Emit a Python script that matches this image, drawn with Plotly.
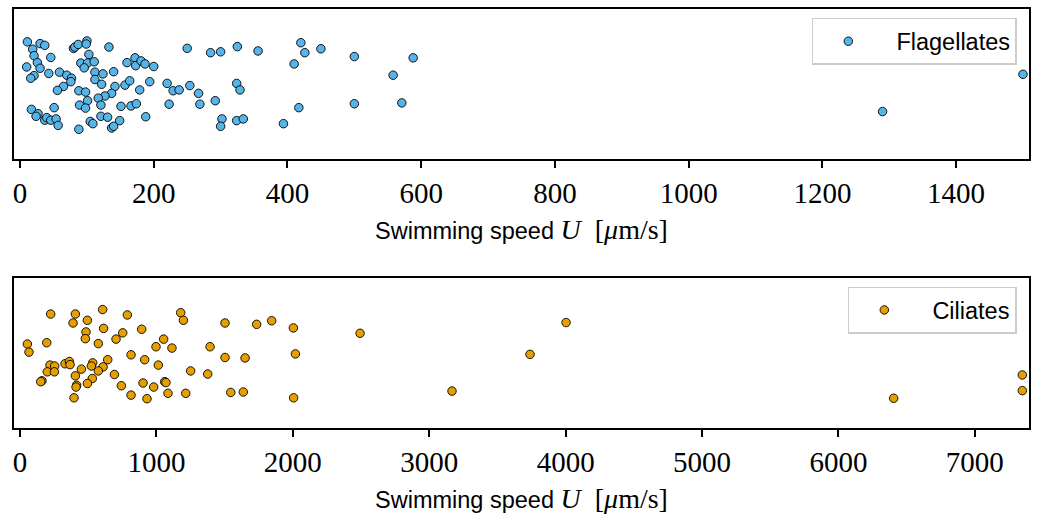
import plotly.graph_objects as go

# ---- data ----
flag_speed = [11, 30, 37, 19, 21, 46, 26, 10, 30, 21, 16, 43,
              80, 82, 87, 100, 99, 133, 103, 91, 101, 111, 96,
              112, 124, 140, 59, 70, 77, 76, 65, 56, 112, 122, 88, 98,
              142, 137, 127, 117, 101, 89, 98, 121,
              160, 172, 173, 181, 187, 200, 157, 164, 179, 194, 151, 166, 174,
              17, 27, 24, 37, 40, 51, 46, 54, 57,
              88, 105, 109, 121, 131, 137, 140, 149, 188,
              220, 229, 238, 254, 267, 223, 269, 292,
              250, 285, 300, 325, 324, 329, 302, 300, 324, 334,
              356, 420, 426, 450, 410, 500, 588, 558, 417, 500, 571, 394,
              1290, 1500]
flag_jitter = [1.00, 0.96, 0.92, 0.83, 0.68, 0.64, 0.52, 0.42, 0.39, 0.22, 0.16, 0.27,
               0.85, 0.88, 0.94, 1.02, 0.95, 0.88, 0.71, 0.51, 0.51, 0.54, 0.40,
               0.30, 0.26, 0.31, 0.30, 0.23, 0.16, 0.08, -0.03, -0.12, 0.13, 0.02, -0.13, -0.16,
               -0.03, -0.19, -0.25, -0.30, -0.36, -0.46, -0.53, -0.46,
               0.52, 0.63, 0.45, 0.56, 0.49, 0.43, 0.00, 0.10, -0.11, 0.08, -0.49, -0.48, -0.43,
               -0.56, -0.66, -0.72, -0.81, -0.75, -0.52, -0.81, -0.78, -0.93,
               -1.02, -0.84, -0.89, -0.72, -0.74, -0.99, -0.95, -0.82, -0.73,
               0.04, -0.13, -0.11, -0.01, -0.19, -0.44, -0.44, -0.36,
               0.85, 0.75, 0.77, 0.89, 0.04, -0.11, -0.78, -0.95, -0.82, -0.78,
               0.79, 0.98, 0.75, 0.84, 0.49, 0.66, 0.63, 0.23, -0.52, -0.43, -0.41, -0.89,
               -0.61, 0.25]

cil_speed = [225, 406, 606, 389, 494, 787, 1178, 1198, 1503, 484, 479, 613, 753, 704, 892,
             574, 54, 66, 196, 1053, 997, 1114, 1393, 1503, 1650, 814, 914, 1014, 1251, 1376,
             643, 609, 574, 533, 523, 450, 330, 362, 367, 220, 254, 200, 252, 406, 692,
             530, 494, 415, 411, 161, 152, 743, 902, 980, 1061, 1070, 814, 931, 1085, 1215,
             1545, 1637, 396,
             1735, 1845, 2004, 2493, 2019, 2006,
             3167, 3739, 4003, 6405, 7348, 7348]
cil_jitter = [0.90, 0.90, 1.00, 0.70, 0.76, 0.88, 0.93, 0.76, 0.70, 0.50, 0.35, 0.58, 0.48, 0.34, 0.56,
              0.24, 0.23, 0.05, 0.26, 0.34, 0.17, 0.14, 0.17, -0.07, -0.08, -0.01, -0.12, -0.24, -0.37, -0.44,
              -0.12, -0.28, -0.37, -0.19, -0.26, -0.33, -0.21, -0.16, -0.23, -0.24, -0.26, -0.39, -0.39, -0.48, -0.45,
              -0.54, -0.65, -0.69, -0.73, -0.59, -0.61, -0.70, -0.64, -0.73, -0.61, -0.63, -0.91, -0.99, -0.87, -0.87,
              -0.85, -0.84, -0.97,
              0.67, 0.75, 0.59, 0.47, 0.01, -0.97,
              -0.82, 0.00, 0.71, -0.98, -0.46, -0.81]

flag_ticks = [0, 200, 400, 600, 800, 1000, 1200, 1400]
cil_ticks = [0, 1000, 2000, 3000, 4000, 5000, 6000, 7000]

flag_color = "#56B4E9"
cil_color = "#E69F00"

NBSP = "\u00a0"
fig = go.Figure()
fig.add_trace(go.Scatter(
    x=flag_speed, y=flag_jitter, mode="markers", name=NBSP + NBSP + "Flagellates",
    marker=dict(size=8.5, color=flag_color, line=dict(color="black", width=0.9)),
    xaxis="x", yaxis="y", legend="legend"))
fig.add_trace(go.Scatter(
    x=cil_speed, y=cil_jitter, mode="markers", name=NBSP + NBSP + "Ciliates",
    marker=dict(size=8.5, color=cil_color, line=dict(color="black", width=0.9)),
    xaxis="x2", yaxis="y2", legend="legend2"))

title_text = ('Swimming speed <span style="font-family:Liberation Serif;font-size:28px">'
              '<i>U</i>' + NBSP + ' [<i>μ</i>m/s]</span>')

axis_common = dict(showline=True, mirror=True, linecolor="black", linewidth=1.8,
                   showgrid=False, zeroline=False, ticks="outside", ticklen=7,
                   tickwidth=1.6, tickcolor="black",
                   tickfont=dict(family="Liberation Serif", size=29, color="black"))
yaxis_common = dict(showline=True, mirror=True, linecolor="black", linewidth=1.8,
                    showgrid=False, zeroline=False, showticklabels=False, ticks="")
title_font = dict(family="Liberation Sans", size=23.5, color="black")
legend_common = dict(x=0.988, xanchor="right", yanchor="top",
                     bgcolor="rgba(255,255,255,0.8)", bordercolor="#cccccc", borderwidth=1.5,
                     font=dict(family="Liberation Sans", size=23.5, color="black"), itemwidth=60)

fig.update_layout(
    width=1038, height=520,
    margin=dict(l=14, r=9, t=7, b=92),
    plot_bgcolor="white", paper_bgcolor="white",
    xaxis=dict(domain=[0, 1], anchor="y", range=[-9, 1509], tickvals=flag_ticks,
               title=dict(text=title_text, standoff=15, font=title_font), **axis_common),
    yaxis=dict(domain=[0.6413, 1], anchor="x", range=[-1.713, 1.759], **yaxis_common),
    xaxis2=dict(domain=[0, 1], anchor="y2", range=[-44, 7397], tickvals=cil_ticks,
                title=dict(text=title_text, standoff=15, font=title_font), **axis_common),
    yaxis2=dict(domain=[0, 0.3587], anchor="x2", range=[-1.644, 1.711], **yaxis_common),
    legend=dict(y=0.9786, **legend_common),
    legend2=dict(y=0.3373, **legend_common),
    showlegend=True,
)

fig.write_html("out.html")
